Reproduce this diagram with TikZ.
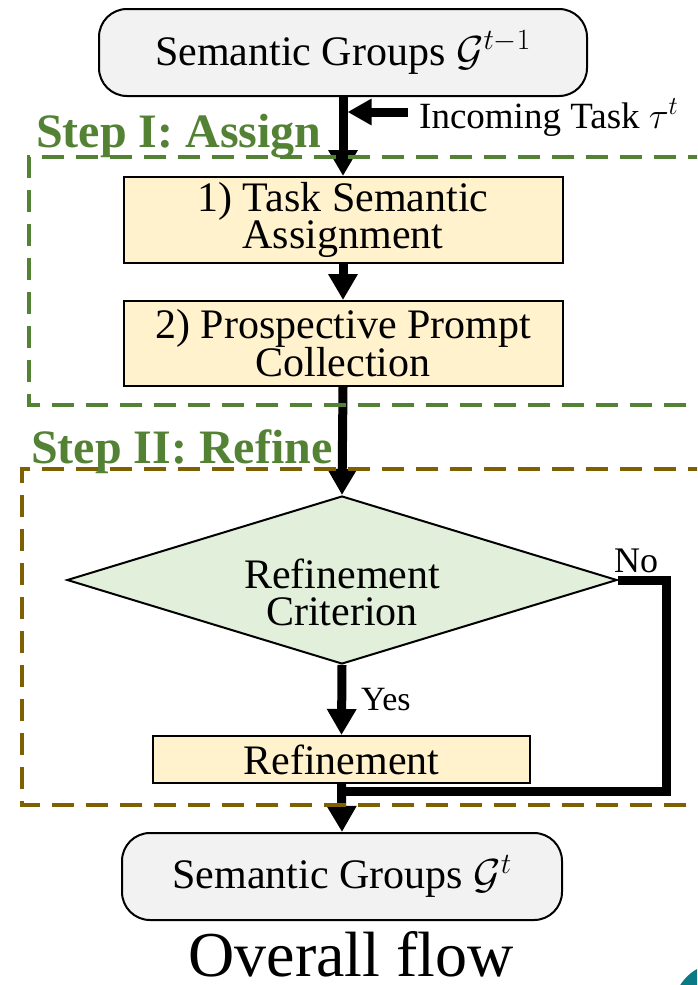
\RequirePackage{fix-cm}
\documentclass[tikz,border=0pt]{standalone}
\usepackage{fontspec}
\setmainfont{Liberation Serif}
\usetikzlibrary{arrows.meta,shapes.geometric}

\definecolor{boxgray}{HTML}{F2F2F2}
\definecolor{boxyellow}{HTML}{FFF2CC}
\definecolor{boxgreen}{HTML}{E2EFDA}
\definecolor{assigngreen}{HTML}{548235}
\definecolor{refinebrown}{HTML}{7F6000}
\definecolor{cornerteal}{HTML}{0B7A84}

\begin{document}
\begin{tikzpicture}[x=1pt,y=-1pt,
  every node/.style={font=\fontsize{42}{37}\selectfont, align=center, inner sep=0pt},
  groupbox/.style={draw, line width=2pt, rounded corners=28pt, fill=boxgray},
  stepbox/.style={draw, line width=2pt, fill=boxyellow},
  decision/.style={draw, line width=2pt, diamond, aspect=3.27, fill=boxgreen},
  flowline/.style={line width=9pt},
  flow/.style={flowline, -{Triangle[width=28pt,length=26pt]}},
  region/.style={line width=3.5pt, dash pattern=on 22pt off 12pt},
  steplabel/.style={font=\fontsize{48}{48}\selectfont\bfseries, text=assigngreen, anchor=base west},
  note/.style={anchor=base west}]

\useasboundingbox (0,0) rectangle (697,985);
\clip (0,0) rectangle (697,985);

% flow chart boxes
\node[groupbox, minimum width=488pt, minimum height=87pt] (prev) at (343,52.5)
  {Semantic Groups $\mathcal{G}^{t-1}$};
\node[stepbox, minimum width=439pt, minimum height=86pt] (assign) at (343,220)
  {1) Task Semantic\\Assignment};
\node[stepbox, minimum width=439pt, minimum height=85pt] (collect) at (343,343.5)
  {2) Prospective Prompt\\[-1pt]Collection};
\node[decision, minimum width=550pt, minimum height=168pt] (crit) at (342,580) {};
\node (crittext) at (342,592) {Refinement\\Criterion};
\node[stepbox, minimum width=377pt, minimum height=47pt] (refine) at (341.5,759.5)
  {Refinement};
\node[groupbox, minimum width=440pt, minimum height=87pt] (next) at (342,876.5)
  {Semantic Groups $\mathcal{G}^{t}$};

% incoming task
\coordinate (taskin) at (408,112);
\coordinate (taskjoin) at (347.5,112);
\node[note, font=\fontsize{37}{37}\selectfont] (tasklabel) at (419,128) {Incoming Task $\tau^t$};

% connectors
\draw[flow] (prev.south) -- (assign.north);
\draw[flowline, -{Triangle[width=25pt,length=24pt]}] (taskin) -- (taskjoin);
\draw[flow] (assign.south) -- (collect.north);
\draw[flow] (collect.south) -- (crit.north);
\draw[flow] (crit.south) -- (refine.north);
\coordinate (loopcorner) at (666,791);
\coordinate (merge) at (343,791);
\draw[flowline] (crit.east) -| (loopcorner) -- (merge);
\draw[flow] (refine.south) -- (next.north);

\node[note, font=\fontsize{34}{34}\selectfont] (yes) at (361,710) {Yes};
\node[note, font=\fontsize{36}{36}\selectfont] (no) at (614,572) {No};

% step regions
\draw[region, assigngreen] (710,157) -- (29,157) -- (29,405) -- (710,405);
\draw[region, refinebrown] (710,469) -- (22,469) -- (22,805) -- (710,805);
\node[steplabel] (assignstep) at (36,147) {Step I: Assign};
\node[steplabel] (refinestep) at (31,463) {Step II: Refine};

% caption
\node[anchor=base, font=\fontsize{64}{64}\selectfont] (caption) at (351,976) {Overall flow};

% corner mark
\fill[cornerteal] (720,1010) circle (47pt);
\end{tikzpicture}
\end{document}
